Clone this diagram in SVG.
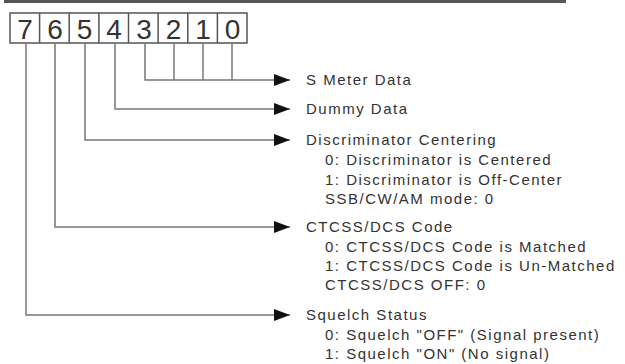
<svg xmlns="http://www.w3.org/2000/svg" width="625" height="364" viewBox="0 0 625 364">
<defs>
<style>
.box{fill:#fff;stroke:#555;stroke-width:1.5}
.dig{font-family:"Liberation Sans",Arial,sans-serif;font-size:28px;fill:#333;text-anchor:middle}
.ln{fill:none;stroke:#777;stroke-width:1.5}
.t{font-family:"Liberation Sans",Arial,sans-serif;font-size:15px;letter-spacing:1.5px;fill:#333}
</style>
<marker id="ah" markerUnits="userSpaceOnUse" markerWidth="18" markerHeight="14" refX="16" refY="6" orient="auto">
<polygon points="0,0 16,6 0,12" fill="#111"/>
</marker>
</defs>
<rect width="625" height="364" fill="#fff"/>
<line x1="4" y1="1.5" x2="566" y2="1.5" stroke="#555" stroke-width="3"/>
<g id="register">
<rect class="box" x="10" y="13" width="237" height="30"/>
<line x1="39.6" y1="13" x2="39.6" y2="43" stroke="#555" stroke-width="1.5"/>
<line x1="69.2" y1="13" x2="69.2" y2="43" stroke="#555" stroke-width="1.5"/>
<line x1="98.9" y1="13" x2="98.9" y2="43" stroke="#555" stroke-width="1.5"/>
<line x1="128.5" y1="13" x2="128.5" y2="43" stroke="#555" stroke-width="1.5"/>
<line x1="158.1" y1="13" x2="158.1" y2="43" stroke="#555" stroke-width="1.5"/>
<line x1="187.8" y1="13" x2="187.8" y2="43" stroke="#555" stroke-width="1.5"/>
<line x1="217.4" y1="13" x2="217.4" y2="43" stroke="#555" stroke-width="1.5"/>
<text class="dig" x="25" y="39">7</text>
<text class="dig" x="55" y="39">6</text>
<text class="dig" x="84.5" y="39">5</text>
<text class="dig" x="114" y="39">4</text>
<text class="dig" x="144" y="39">3</text>
<text class="dig" x="173.5" y="39">2</text>
<text class="dig" x="203" y="39">1</text>
<text class="dig" x="232.5" y="39">0</text>
</g>
<g id="connectors">
<polyline class="ln" points="145,43 145,80 290,80" marker-end="url(#ah)"/>
<line class="ln" x1="174" y1="43" x2="174" y2="80"/>
<line class="ln" x1="203" y1="43" x2="203" y2="80"/>
<line class="ln" x1="232" y1="43" x2="232" y2="80"/>
<polyline class="ln" points="115,43 115,109 290,109" marker-end="url(#ah)"/>
<polyline class="ln" points="85,43 85,140 290,140" marker-end="url(#ah)"/>
<polyline class="ln" points="55,43 55,227 290,227" marker-end="url(#ah)"/>
<polyline class="ln" points="26,43 26,315 290,315" marker-end="url(#ah)"/>
</g>
<g id="s-meter">
<text class="t" x="306" y="85">S Meter Data</text>
</g>
<g id="dummy">
<text class="t" x="306" y="114">Dummy Data</text>
</g>
<g id="discriminator">
<text class="t" x="306" y="145">Discriminator Centering</text>
<text class="t" x="325" y="165">0: Discriminator is Centered</text>
<text class="t" x="325" y="185">1: Discriminator is Off-Center</text>
<text class="t" x="325" y="204">SSB/CW/AM mode: 0</text>
</g>
<g id="ctcss">
<text class="t" x="306" y="232">CTCSS/DCS Code</text>
<text class="t" x="325" y="252">0: CTCSS/DCS Code is Matched</text>
<text class="t" x="325" y="271">1: CTCSS/DCS Code is Un-Matched</text>
<text class="t" x="325" y="290">CTCSS/DCS OFF: 0</text>
</g>
<g id="squelch">
<text class="t" x="306" y="320">Squelch Status</text>
<text class="t" x="325" y="340">0: Squelch "OFF" (Signal present)</text>
<text class="t" x="325" y="359">1: Squelch "ON" (No signal)</text>
</g>
</svg>
